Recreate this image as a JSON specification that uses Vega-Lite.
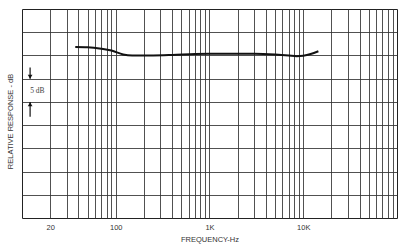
{
  "$schema": "https://vega.github.io/schema/vega-lite/v6.json",
  "width": 375,
  "height": 209,
  "autosize": "none",
  "padding": {"left": 22, "top": 9, "right": 8, "bottom": 31},
  "background": "white",
  "config": {
    "view": {"stroke": "#222", "strokeWidth": 1},
    "font": "Liberation Sans"
  },
  "datasets": {
    "curve": [
      {"freq": 37, "db": 1.8},
      {"freq": 50, "db": 1.75},
      {"freq": 70, "db": 1.45},
      {"freq": 90, "db": 1.05},
      {"freq": 120, "db": 0.2},
      {"freq": 150, "db": 0.0},
      {"freq": 250, "db": 0.0},
      {"freq": 400, "db": 0.1},
      {"freq": 700, "db": 0.3},
      {"freq": 1000, "db": 0.35},
      {"freq": 2000, "db": 0.35},
      {"freq": 3000, "db": 0.35},
      {"freq": 5000, "db": 0.2},
      {"freq": 7000, "db": 0.0},
      {"freq": 8500, "db": -0.15},
      {"freq": 10000, "db": -0.05},
      {"freq": 12000, "db": 0.3},
      {"freq": 14500, "db": 0.9}
    ],
    "arrows": [
      {"freq": 12.2, "db": -2.6, "db2": -5},
      {"freq": 12.2, "db": -10, "db2": -13.2}
    ],
    "heads": [
      {"freq": 12.2, "db": -4.6, "shape": "triangle-down"},
      {"freq": 12.2, "db": -10.5, "shape": "triangle-up"}
    ],
    "note": [{"freq": 14.6, "db": -7.6, "label": "5 dB"}]
  },
  "encoding": {
    "x": {
      "field": "freq", "type": "quantitative",
      "scale": {"type": "log", "domain": [10, 100000], "nice": false},
      "axis": {
        "values": [20,30,40,50,60,70,80,90,100,200,300,400,500,600,700,800,900,1000,2000,3000,4000,5000,6000,7000,8000,9000,10000,20000,30000,40000,50000,60000,70000,80000,90000],
        "labelExpr": "datum.value == 20 ? '20' : datum.value == 100 ? '100' : datum.value == 1000 ? '1K' : datum.value == 10000 ? '10K' : ''",
        "grid": true, "gridColor": "#333", "gridOpacity": 0.85, "gridWidth": 1,
        "ticks": false, "domain": false,
        "labelFontSize": 7.5, "labelColor": "#333", "labelPadding": 5,
        "labelFont": "Liberation Sans",
        "title": "FREQUENCY-Hz", "titleFontSize": 7.5, "titleFontWeight": "normal",
        "titleColor": "#333", "titlePadding": 5, "titleFont": "Liberation Sans"
      }
    },
    "y": {
      "field": "db", "type": "quantitative",
      "scale": {"domain": [-35, 10], "nice": false},
      "axis": {
        "values": [-30,-25,-20,-15,-10,-5,0,5],
        "labels": false, "ticks": false, "domain": false,
        "grid": true, "gridColor": "#333", "gridOpacity": 0.85, "gridWidth": 1,
        "title": "RELATIVE RESPONSE - dB", "titleFontSize": 7.5, "titleFontWeight": "normal",
        "titleColor": "#333", "titleFont": "Liberation Sans",
        "titleX": -12, "titleY": 112, "titleAngle": -90, "titleBaseline": "middle"
      }
    }
  },
  "layer": [
    {
      "data": {"name": "curve"},
      "mark": {"type": "line", "color": "#111", "strokeWidth": 2, "interpolate": "monotone"}
    },
    {
      "data": {"name": "arrows"},
      "mark": {"type": "rule", "color": "#111", "strokeWidth": 1.2},
      "encoding": {"y2": {"field": "db2"}}
    },
    {
      "data": {"name": "heads"},
      "mark": {"type": "point", "filled": true, "color": "#111", "size": 22, "opacity": 1},
      "encoding": {"shape": {"field": "shape", "type": "nominal", "scale": null}}
    },
    {
      "data": {"name": "note"},
      "mark": {"type": "text", "fontSize": 7.5, "color": "#444", "font": "Liberation Serif"},
      "encoding": {"text": {"field": "label"}}
    }
  ]
}
